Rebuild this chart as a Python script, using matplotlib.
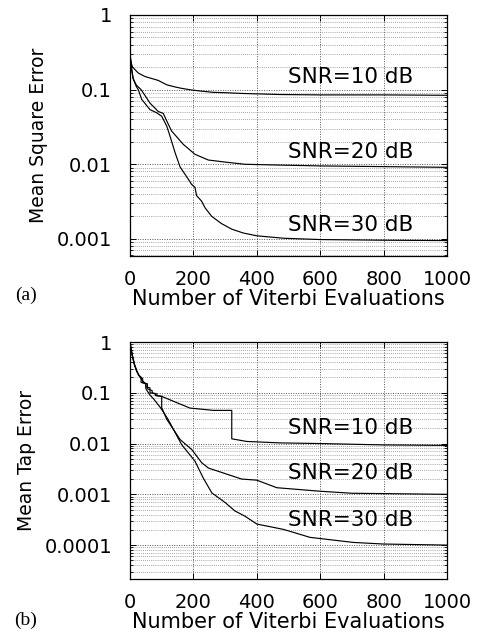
import matplotlib
matplotlib.use("Agg")
import matplotlib.pyplot as plt
from matplotlib.ticker import LogLocator, FixedLocator, NullFormatter

# ---------------- data ----------------
# (a) Mean Square Error
x_a10 = [0, 3, 5, 8, 16, 26, 47, 89, 116, 141, 158, 193, 230, 262, 300, 350, 473, 600, 800, 1000]
mse_10 = [0.30, 0.24, 0.22, 0.20, 0.185, 0.167, 0.15, 0.133, 0.116, 0.109, 0.105, 0.099, 0.095, 0.092, 0.091, 0.089, 0.086, 0.085, 0.085, 0.084]

x_a20 = [0, 3, 5, 10, 20, 35, 63, 89, 105, 116, 131, 168, 205, 247, 300, 363, 450, 600, 800, 1000]
mse_20 = [0.30, 0.22, 0.19, 0.14, 0.115, 0.10, 0.066, 0.051, 0.048, 0.038, 0.028, 0.0185, 0.0136, 0.0114, 0.0107, 0.0100, 0.0098, 0.0095, 0.0093, 0.0091]

x_a30 = [0, 3, 5, 10, 20, 26, 37, 63, 84, 100, 116, 126, 142, 158, 184, 194, 205, 210, 226, 237, 258, 289, 321, 357, 400, 485, 600, 800, 1000]
mse_30 = [0.30, 0.22, 0.19, 0.14, 0.11, 0.10, 0.074, 0.054, 0.049, 0.044, 0.0324, 0.024, 0.0144, 0.0092, 0.0063, 0.0054, 0.0049, 0.0038, 0.0032, 0.0026, 0.0020, 0.0016, 0.00135, 0.0012, 0.0011, 0.00102, 0.00098, 0.00096, 0.00095]

# (b) Mean Tap Error
x_b10 = [0, 3, 7, 14, 21, 28, 35, 35, 50, 50, 63, 63, 80, 80, 100, 137, 189, 263, 321, 321, 368, 473, 600, 800, 1000]
tap_10 = [1.0, 0.75, 0.56, 0.36, 0.27, 0.22, 0.20, 0.16, 0.15, 0.13, 0.125, 0.10, 0.095, 0.088, 0.085, 0.068, 0.050, 0.045, 0.045, 0.0124, 0.011, 0.0103, 0.0100, 0.0094, 0.0092]

x_b20 = [0, 3, 7, 14, 21, 28, 40, 40, 55, 55, 70, 70, 85, 85, 100, 100, 116, 158, 195, 226, 247, 289, 352, 400, 463, 600, 700, 1000]
tap_20 = [1.0, 0.75, 0.55, 0.36, 0.27, 0.22, 0.19, 0.16, 0.15, 0.12, 0.11, 0.10, 0.095, 0.088, 0.085, 0.051, 0.030, 0.012, 0.0076, 0.0042, 0.0033, 0.0027, 0.0020, 0.0019, 0.00135, 0.00115, 0.00105, 0.00100]

x_b30 = [0, 3, 7, 14, 21, 28, 40, 50, 50, 63, 75, 96, 120, 163, 205, 231, 258, 300, 331, 363, 400, 484, 568, 704, 799, 1000]
tap_30 = [1.0, 0.75, 0.55, 0.36, 0.27, 0.22, 0.17, 0.15, 0.12, 0.09, 0.075, 0.051, 0.030, 0.0095, 0.0045, 0.0021, 0.00107, 0.00069, 0.00047, 0.00037, 0.00026, 0.000204, 0.000142, 0.000113, 0.000105, 0.000100]

snr_labels = ["SNR=10 dB", "SNR=20 dB", "SNR=30 dB"]
label_y_a = [0.149, 0.0148, 0.00155]
label_y_b = [0.0203, 0.00266, 0.00031]
label_x = 498

x_ticks = [0, 200, 400, 600, 800, 1000]
yticks_a = [1, 0.1, 0.01, 0.001]
ytick_labels_a = ["1", "0.1", "0.01", "0.001"]
yticks_b = [1, 0.1, 0.01, 0.001, 0.0001]
ytick_labels_b = ["1", "0.1", "0.01", "0.001", "0.0001"]

# ---------------- figure ----------------
plt.rcParams['font.family'] = ['DejaVu Sans']
fig = plt.figure(figsize=(4.86, 6.32), dpi=100)

ax_a = fig.add_axes([130/486, 1 - 256/632, 317/486, 241/632])
ax_b = fig.add_axes([130/486, 1 - 579/632, 317/486, 237/632])


def style(ax, ylim, yticks, ylabels, ylabel):
    ax.set_yscale('log')
    ax.set_xlim(0, 1000)
    ax.set_ylim(*ylim)
    ax.set_xticks(x_ticks)
    ax.set_xticklabels([str(t) for t in x_ticks], fontsize=14)
    ax.yaxis.set_major_locator(FixedLocator(yticks))
    ax.set_yticklabels(ylabels, fontsize=14)
    ax.yaxis.set_minor_locator(LogLocator(base=10, subs=range(2, 10), numticks=20))
    ax.yaxis.set_minor_formatter(NullFormatter())
    ax.grid(True, which='major', axis='both', linestyle=(0, (1, 1.5)), color='#555555', linewidth=0.7)
    ax.grid(True, which='minor', axis='y', linestyle=(0, (1, 1.5)), color='#888888', linewidth=0.6)
    ax.tick_params(which='both', direction='in', top=True, right=True)
    ax.tick_params(which='major', length=4, width=0.7)
    ax.tick_params(which='minor', length=2.5, width=0.6)
    ax.tick_params(axis='y', pad=13)
    ax.tick_params(axis='x', pad=10)
    for s in ax.spines.values():
        s.set_linewidth(0.9)
    ax.set_ylabel(ylabel, fontsize=13.5, labelpad=6)
    ax.set_xlabel("Number of Viterbi Evaluations", fontsize=15, labelpad=0)


lw = 0.85
ax_a.plot(x_a10, mse_10, color='black', lw=lw)
ax_a.plot(x_a20, mse_20, color='black', lw=lw)
ax_a.plot(x_a30, mse_30, color='black', lw=lw)
style(ax_a, (0.00059, 1), yticks_a, ytick_labels_a, "Mean Square Error")
for lab, yv in zip(snr_labels, label_y_a):
    ax_a.text(label_x, yv, lab, fontsize=15.5, va='center', ha='left')

ax_b.plot(x_b10, tap_10, color='black', lw=lw)
ax_b.plot(x_b20, tap_20, color='black', lw=lw)
ax_b.plot(x_b30, tap_30, color='black', lw=lw)
style(ax_b, (2.15e-5, 1), yticks_b, ytick_labels_b, "Mean Tap Error")
for lab, yv in zip(snr_labels, label_y_b):
    ax_b.text(label_x, yv, lab, fontsize=15.5, va='center', ha='left')

fig.text(26/486, 1 - 295/632, "(a)", fontsize=14, family='Liberation Serif', ha='center', va='center')
fig.text(26/486, 1 - 620/632, "(b)", fontsize=14, family='Liberation Serif', ha='center', va='center')

fig.savefig("out.png", dpi=100)
